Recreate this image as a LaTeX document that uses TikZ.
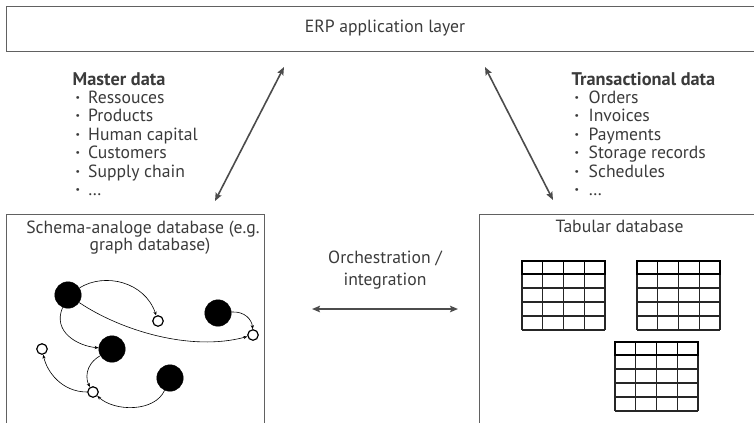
\documentclass[tikz,border=0pt]{standalone}
\usepackage{fontspec}
\setmainfont{PT Sans}
\usetikzlibrary{arrows.meta}
\definecolor{txt}{gray}{0.23}
\definecolor{frame}{gray}{0.38}
\definecolor{arr}{gray}{0.3}
\begin{document}
\begin{tikzpicture}[x=1bp,y=-1bp,
  box/.style={draw=frame, line width=1.4bp, inner sep=0},
  lbl/.style={text=txt, font=\fontsize{17.7}{20}\selectfont, inner sep=0},
  hd/.style={lbl, font=\fontsize{18.4}{20}\selectfont\bfseries},
  bigarrow/.style={draw=arr, line width=1.6bp, {Stealth[length=8bp,width=6.5bp,inset=1.5bp]}-{Stealth[length=8bp,width=6.5bp,inset=1.5bp]}},
  gbig/.style={circle, fill=black, draw=black, minimum size=26.5bp, inner sep=0},
  gsmall/.style={circle, draw=black, fill=white, line width=1.2bp, minimum size=10.5bp, inner sep=0},
  gedge/.style={draw=black, line width=0.6bp, -{Stealth[length=4bp,width=3.2bp]}},
  dbtable/.pic={
    \foreach \xx in {0,20.75,41.5,62.25,83} \draw[line width=1.1bp, black!85] (\xx,0) -- (\xx,69);
    \foreach \yy in {27,41,55,69} \draw[line width=1.1bp, black!85] (0,\yy) -- (83,\yy);
    \draw[line width=2.4bp, black] (0,0) rectangle (83,13);
    \foreach \xx in {20.75,41.5,62.25} \draw[line width=1.4bp, black] (\xx,0) -- (\xx,13);
  }
]
\useasboundingbox (0,0) rectangle (754,422);

% boxes
\node[box, minimum width=754bp, minimum height=45bp, anchor=north west] (erp) at (6,6) {};
\node[lbl, anchor=base] (erptxt) at (385,32) {ERP application layer};
\node[box, minimum width=258bp, minimum height=230bp, anchor=north west] (graphdb) at (6,214) {};
\node[box, minimum width=285bp, minimum height=230bp, anchor=north west] (tabdb) at (479,214) {};

\node[lbl, anchor=base] (g1) at (143,233) {Schema-analoge database (e.g.};
\node[lbl, anchor=base] (g2) at (150,250.5) {graph database)};
\node[lbl, anchor=base] (t1) at (619.5,232) {Tabular database};

\node[lbl, anchor=base] (o1) at (385,263) {Orchestration /};
\node[lbl, anchor=base] (o2) at (385,285) {integration};

% master data
\node[hd, anchor=base west] (m0) at (72.5,85) {Master data};
\foreach \t [count=\i] in {Ressouces,Products,Human capital,Customers,Supply chain,…}
  \node[lbl, anchor=base west] (m\i) at (72.5,{85+18.4*\i}) {\makebox[15.5bp][l]{\,\textbf{·}}\t};

% transactional data
\node[hd, anchor=base west] (n0) at (571.5,85) {Transactional data};
\foreach \t [count=\i] in {Orders,Invoices,Payments,Storage records,Schedules,…}
  \node[lbl, anchor=base west] (n\i) at (571.5,{85+18.4*\i}) {\makebox[17bp][l]{\,\textbf{·}}\t};

% arrows
\coordinate (la) at (284,67);
\coordinate (lb) at (215,201);
\coordinate (ra) at (485,67);
\coordinate (rb) at (553,200);
\coordinate (ha) at (312,309);
\coordinate (hb) at (458,309);
\draw[bigarrow] (la) -- (lb);
\draw[bigarrow] (ra) -- (rb);
\draw[bigarrow] (ha) -- (hb);

% graph
\node[gbig] (b1) at (68,295) {};
\node[gbig] (b2) at (218,313) {};
\node[gbig] (b3) at (112,349) {};
\node[gbig] (b4) at (170,378) {};
\node[gsmall] (s1) at (158,321) {};
\node[gsmall] (s2) at (253,335) {};
\node[gsmall] (s3) at (42,349) {};
\node[gsmall] (s4) at (93,392) {};

\draw[gedge] (b1) .. controls (105,272) and (145,282) .. (s1);
\draw[gedge] (b1) .. controls (120,330) and (190,352) .. (s2);
\draw[gedge] (b1) .. controls (52,332) and (78,346) .. (b3);
\draw[gedge] (b2) .. controls (245,311) and (252,320) .. (s2);
\draw[gedge] (b3) .. controls (84,365) and (86,380) .. (s4);
\draw[gedge] (s4) .. controls (62,392) and (47,372) .. (s3);
\draw[gedge] (b4) .. controls (155,412) and (115,412) .. (s4);

% tables
\pic at (522,261) {dbtable};
\pic at (637,261) {dbtable};
\pic at (615,342) {dbtable};
\end{tikzpicture}
\end{document}
